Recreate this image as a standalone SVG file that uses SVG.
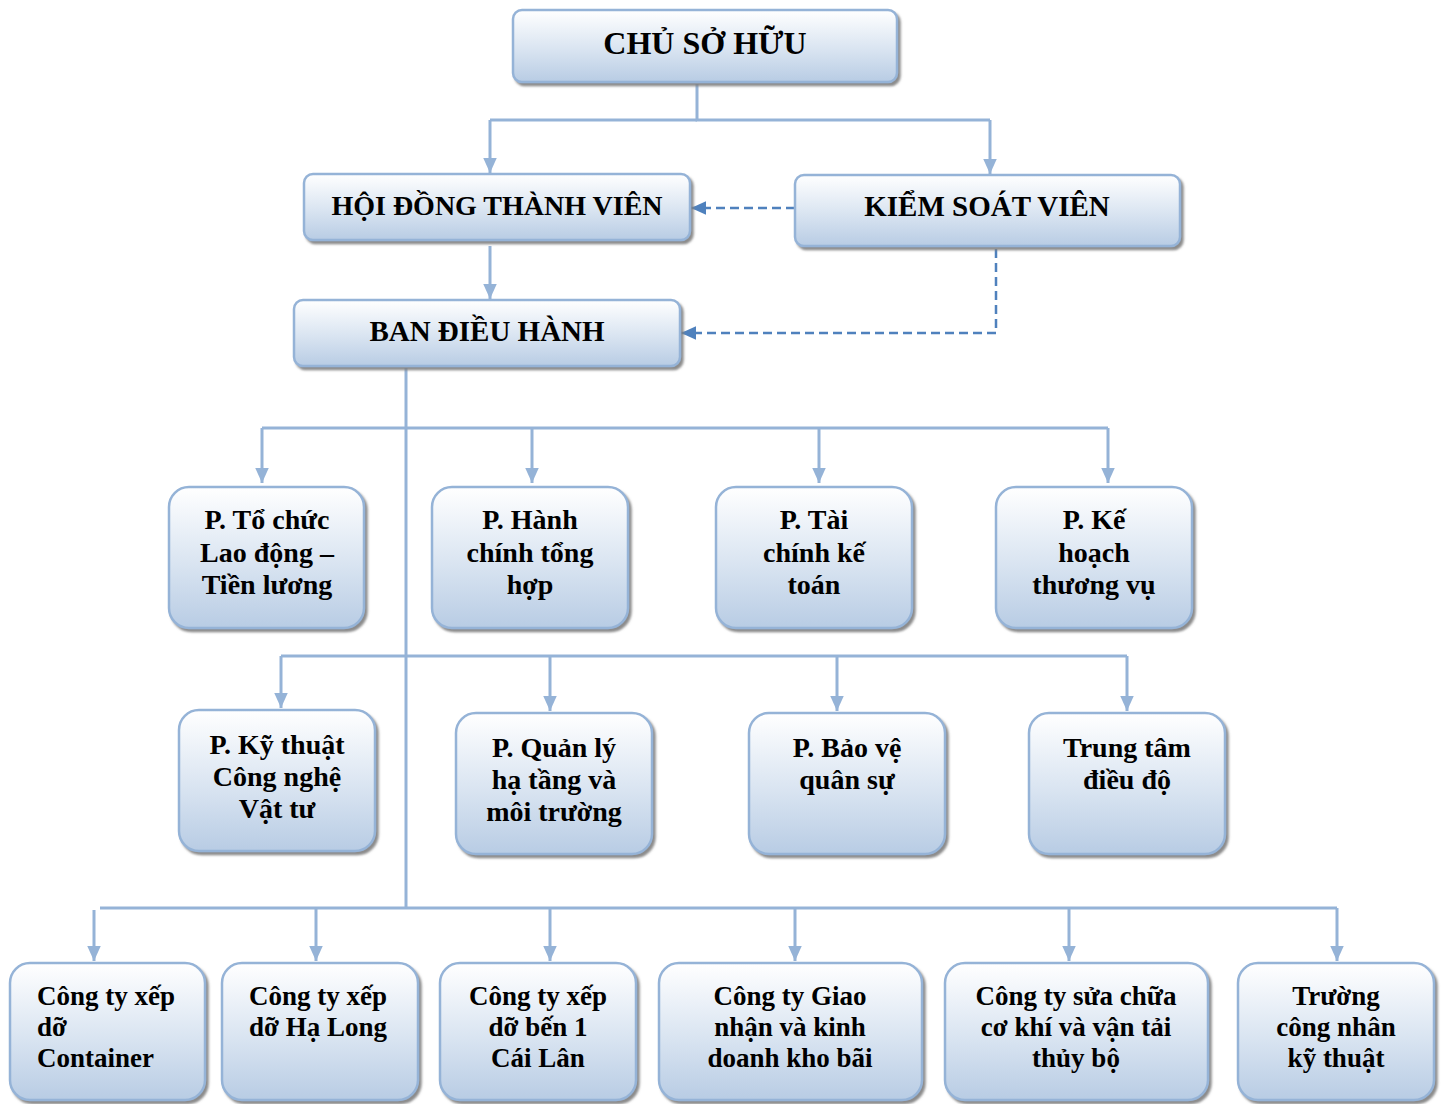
<svg xmlns="http://www.w3.org/2000/svg" width="1444" height="1104" viewBox="0 0 1444 1104">
<defs>
<linearGradient id="g" x1="0" y1="0" x2="0" y2="1">
<stop offset="0" stop-color="#ffffff"/>
<stop offset="0.55" stop-color="#d9e4f1"/>
<stop offset="1" stop-color="#b8cce4"/>
</linearGradient>
<filter id="sh" x="-5%" y="-5%" width="115%" height="120%">
<feDropShadow dx="2.5" dy="3" stdDeviation="1" flood-color="#7f7f7f" flood-opacity="0.9"/>
</filter>
<marker id="ar" viewBox="0 0 10 10" refX="10" refY="5" markerWidth="15" markerHeight="15" markerUnits="userSpaceOnUse" orient="auto">
<path d="M0,0.5 L10,5 L0,9.5 z" fill="#95b3d7"/>
</marker>
<marker id="ad" viewBox="0 0 10 10" refX="10" refY="5" markerWidth="15" markerHeight="15" markerUnits="userSpaceOnUse" orient="auto">
<path d="M0,0.5 L10,5 L0,9.5 z" fill="#4f81bd"/>
</marker>
</defs>
<style>
.b{fill:url(#g);stroke:#95b3d7;stroke-width:2.5;filter:url(#sh)}
.t{font-family:"Liberation Serif","Times New Roman",serif;font-weight:bold;font-size:28px;fill:#000;text-anchor:middle}
.tl{text-anchor:start}
.s{font-size:27px}
.h{font-size:29px}
.big{font-size:32px}
.c{fill:none;stroke:#95b3d7;stroke-width:3}
.d{fill:none;stroke:#4f81bd;stroke-width:2.5;stroke-dasharray:9 5}
</style>
<g id="connectors">
<path class="c" d="M697,84 V120 H990"/>
<path class="c" d="M697,120 H490"/>
<path class="c" d="M490,120 V173" marker-end="url(#ar)"/>
<path class="c" d="M990,120 V174" marker-end="url(#ar)"/>
<path class="c" d="M490,246 V299" marker-end="url(#ar)"/>
<path class="d" d="M795,208 H691" marker-end="url(#ad)"/>
<path class="d" d="M996,249 V333 H681" marker-end="url(#ad)"/>
<path class="c" d="M406,368 V908"/>
<path class="c" d="M262,428 H1108"/>
<path class="c" d="M262,428 V483" marker-end="url(#ar)"/>
<path class="c" d="M532,428 V483" marker-end="url(#ar)"/>
<path class="c" d="M819,428 V483" marker-end="url(#ar)"/>
<path class="c" d="M1108,428 V483" marker-end="url(#ar)"/>
<path class="c" d="M281,656 H1127"/>
<path class="c" d="M281,656 V708" marker-end="url(#ar)"/>
<path class="c" d="M550,656 V711" marker-end="url(#ar)"/>
<path class="c" d="M837,656 V711" marker-end="url(#ar)"/>
<path class="c" d="M1127,656 V711" marker-end="url(#ar)"/>
<path class="c" d="M100,908 H1337"/>
<path class="c" d="M94,910 V961" marker-end="url(#ar)"/>
<path class="c" d="M316,908 V961" marker-end="url(#ar)"/>
<path class="c" d="M550,908 V961" marker-end="url(#ar)"/>
<path class="c" d="M795,908 V961" marker-end="url(#ar)"/>
<path class="c" d="M1069,908 V961" marker-end="url(#ar)"/>
<path class="c" d="M1337,908 V961" marker-end="url(#ar)"/>
</g>
<g id="n-owner"><rect class="b" x="513" y="10" width="384" height="72" rx="9"/><text class="t big" x="705" y="54">CHỦ SỞ HỮU</text></g>
<g id="n-hdtv"><rect class="b" x="304" y="174" width="386" height="66" rx="9"/><text class="t" x="497" y="215">HỘI ĐỒNG THÀNH VIÊN</text></g>
<g id="n-ksv"><rect class="b" x="795" y="175" width="385" height="71" rx="9"/><text class="t h" x="987" y="216">KIỂM SOÁT VIÊN</text></g>
<g id="n-bdh"><rect class="b" x="294" y="300" width="386" height="66" rx="9"/><text class="t h" x="487" y="341">BAN ĐIỀU HÀNH</text></g>

<g id="n-tochuc"><rect class="b" x="169" y="487" width="195" height="141" rx="20"/><text class="t" x="267" y="529">P. Tổ chức</text><text class="t" x="267" y="562">Lao động –</text><text class="t" x="267" y="594">Tiền lương</text></g>
<g id="n-hanhchinh"><rect class="b" x="432" y="487" width="196" height="141" rx="20"/><text class="t" x="530" y="529">P. Hành</text><text class="t" x="530" y="562">chính tổng</text><text class="t" x="530" y="594">hợp</text></g>
<g id="n-taichinh"><rect class="b" x="716" y="487" width="196" height="141" rx="20"/><text class="t" x="814" y="529">P. Tài</text><text class="t" x="814" y="562">chính kế</text><text class="t" x="814" y="594">toán</text></g>
<g id="n-kehoach"><rect class="b" x="996" y="487" width="196" height="141" rx="20"/><text class="t" x="1094" y="529">P. Kế</text><text class="t" x="1094" y="562">hoạch</text><text class="t" x="1094" y="594">thương vụ</text></g>

<g id="n-kythuat"><rect class="b" x="179" y="710" width="196" height="141" rx="20"/><text class="t" x="277" y="754">P. Kỹ thuật</text><text class="t" x="277" y="786">Công nghệ</text><text class="t" x="277" y="818">Vật tư</text></g>
<g id="n-quanly"><rect class="b" x="456" y="713" width="196" height="141" rx="20"/><text class="t" x="554" y="757">P. Quản lý</text><text class="t" x="554" y="789">hạ tầng và</text><text class="t" x="554" y="821">môi trường</text></g>
<g id="n-baove"><rect class="b" x="749" y="713" width="196" height="141" rx="20"/><text class="t" x="847" y="757">P. Bảo vệ</text><text class="t" x="847" y="789">quân sự</text></g>
<g id="n-trungtam"><rect class="b" x="1029" y="713" width="196" height="141" rx="20"/><text class="t" x="1127" y="757">Trung tâm</text><text class="t" x="1127" y="789">điều độ</text></g>

<g id="n-container"><rect class="b" x="10" y="963" width="195" height="137" rx="20"/><text class="t s tl" x="37" y="1005">Công ty xếp</text><text class="t s tl" x="37" y="1036">dỡ</text><text class="t s tl" x="37" y="1067">Container</text></g>
<g id="n-halong"><rect class="b" x="222" y="963" width="196" height="137" rx="20"/><text class="t s tl" x="249" y="1005">Công ty xếp</text><text class="t s tl" x="249" y="1036">dỡ Hạ Long</text></g>
<g id="n-cailan"><rect class="b" x="440" y="963" width="196" height="137" rx="20"/><text class="t s" x="538" y="1005">Công ty xếp</text><text class="t s" x="538" y="1036">dỡ bến 1</text><text class="t s" x="538" y="1067">Cái Lân</text></g>
<g id="n-giaonhan"><rect class="b" x="659" y="963" width="263" height="137" rx="20"/><text class="t s" x="790" y="1005">Công ty Giao</text><text class="t s" x="790" y="1036">nhận và kinh</text><text class="t s" x="790" y="1067">doanh kho bãi</text></g>
<g id="n-suachua"><rect class="b" x="945" y="963" width="263" height="137" rx="20"/><text class="t s" x="1076" y="1005">Công ty sửa chữa</text><text class="t s" x="1076" y="1036">cơ khí và vận tải</text><text class="t s" x="1076" y="1067">thủy bộ</text></g>
<g id="n-truong"><rect class="b" x="1238" y="963" width="196" height="137" rx="20"/><text class="t s" x="1336" y="1005">Trường</text><text class="t s" x="1336" y="1036">công nhân</text><text class="t s" x="1336" y="1067">kỹ thuật</text></g>
</svg>
